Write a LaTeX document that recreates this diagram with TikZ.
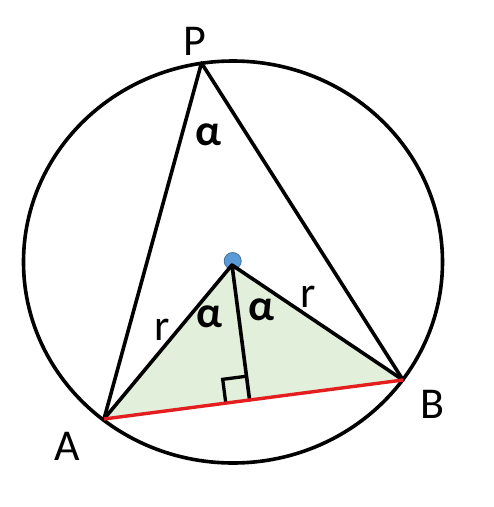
\documentclass[tikz,border=0pt]{standalone}
\usepackage{fontspec}
\setmainfont{Carlito}
\usetikzlibrary{calc}
\definecolor{fillgreen}{HTML}{E2EFDA}
\definecolor{dotblue}{HTML}{5B9BD5}
\definecolor{dotedge}{HTML}{41719C}
\definecolor{chordred}{HTML}{E41E1E}
\begin{document}
\begin{tikzpicture}[x=1pt,y=-1pt,
  edge/.style={line width=3.6pt,black,line cap=round,line join=round},
  lbl/.style={font=\fontsize{44}{48}\selectfont,anchor=base,inner sep=0pt},
  alab/.style={font=\fontsize{44}{48}\selectfont\bfseries,anchor=base,inner sep=0pt}]
\useasboundingbox (0,0) rectangle (494,507);
\coordinate (C) at (233,262);
\coordinate (O) at (232,265);
\coordinate (D) at (232.7,261);
\coordinate (P) at (201.5,63);
\coordinate (A) at (104,419);
\coordinate (B) at (403,380);
\coordinate (F) at ($(A)!(O)!(B)$);
\coordinate (F1) at ($(F)!24pt!(A)$);
\coordinate (F2) at ($(F)!24pt!(O)$);
\coordinate (F3) at ($(F1)+(F2)-(F)$);
\fill[fillgreen] (A) -- (O) -- (B) -- cycle;
\fill[dotblue,draw=dotedge,line width=0.8pt] (D) circle (8.5);
\draw[edge] (C) ellipse [x radius=209.5, y radius=201];
\draw[edge] (A) -- (P) -- (B);
\draw[edge] (A) -- (O) -- (B);
\draw[edge] (O) -- (F);
\draw[line width=3.3pt,black,line join=miter] (F1) -- (F3) -- (F2);
\draw[line width=3.4pt,chordred] (A) -- (B);
\node[lbl] (lP) at (195,55) {P};
\node[lbl] (lA) at (67.5,460) {A};
\node[lbl] (lB) at (432,418) {B};
\node[lbl] (lr1) at (162,340) {r};
\node[lbl] (lr2) at (308,307) {r};
\node[alab] (la1) at (208,145) {α};
\node[alab] (la2) at (209,327) {α};
\node[alab] (la3) at (261,320) {α};
\end{tikzpicture}
\end{document}
